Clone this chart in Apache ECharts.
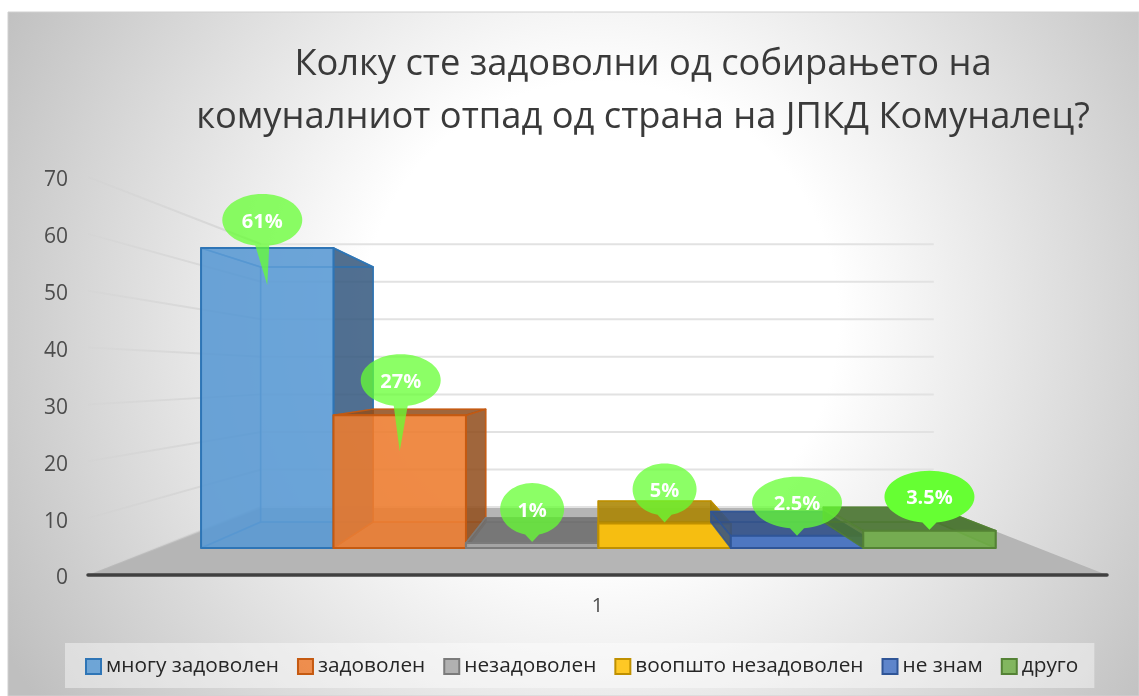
<!DOCTYPE html>
<html>
<head>
<meta charset="utf-8">
<style>
  html, body { margin: 0; padding: 0; background: #fff; }
  #chart { width: 1139px; height: 696px; }
</style>
</head>
<body>
<div id="chart"></div>
<script src="https://cdn.jsdelivr.net/npm/echarts@6/dist/echarts.min.js"></script>
<script>
const titleLines = ['Колку сте задоволни од собирањето на', 'комуналниот отпад од страна на ЈПКД Комуналец?']
const categories = ['1']
const seriesNames = ['многу задоволен', 'задоволен', 'незадоволен', 'воопшто незадоволен', 'не знам', 'друго']
const seriesValues = [61, 27, 1, 5, 2.5, 3.5]
const calloutLabels = ['61%', '27%', '1%', '5%', '2.5%', '3.5%']
const yTicks = [0, 10, 20, 30, 40, 50, 60, 70]

const fills = ['#5B9BD5', '#ED7D31', '#A5A5A5', '#FFC000', '#4472C4', '#70AD47']
const borders = ['#2E75B6', '#C55A11', '#7B7B7B', '#BF9000', '#2F5597', '#548235']
const darks = ['#37597f', '#8f4f20', '#6e6e6e', '#a88200', '#2f4f88', '#4a7530']

// callout look, one per bar: how far the tip sits below the bar top,
// how far the balloon sits above the tip, balloon half width, sideways shift
const tipDrops = [37, 36, -1, -1, 0, -1]
const tailLengths = [65, 71, 33, 33, 33, 33]
const calloutWidths = [40, 40, 32, 32, 45, 45]
const calloutShifts = [-5, 1, 0, 0, 0, 0]
const calloutOpacity = [0.75, 0.75, 0.75, 0.75, 0.75, 1]

// perspective depths, 1 = the plane of the axis
const eyeLevel = 35.2
const wallDepth = 0.66
const barFront = 0.865
const barBack = 0.735
const barsShare = 0.9015
const barsShift = 1

function projector(api) {
  const vx = api.coord([0, 0])[0]
  const vy = api.coord([0, eyeLevel])[1]
  return (x, y, s) => [vx + (x - vx) * s, vy + (y - vy) * s]
}

function hexAlpha(hex, a) {
  const n = parseInt(hex.slice(1), 16)
  return 'rgba(' + (n >> 16) + ',' + ((n >> 8) & 255) + ',' + (n & 255) + ',' + a + ')'
}

function barGeometry(i, value, api) {
  const p = projector(api)
  const band = api.size([1, 0])[0]
  const cx = api.coord([0, 0])[0]
  const w = band * barsShare / seriesValues.length
  const x0 = cx + barsShift - band * barsShare / 2 + i * w
  const y0 = api.coord([0, 0])[1]
  const y1 = api.coord([0, value])[1]
  return { p, x0, x1: x0 + w, y0, y1 }
}

function face(points, fill, stroke, lineWidth) {
  return {
    type: 'polygon',
    shape: { points },
    style: { fill, stroke, lineWidth, lineJoin: 'round' },
    silent: true,
  }
}

function renderBar(i) {
  return (params, api) => {
    const { p, x0, x1, y0, y1 } = barGeometry(i, api.value(1), api)
    const f = (x, y) => p(x, y, barFront)
    const b = (x, y) => p(x, y, barBack)
    const fill = fills[i]
    const dark = darks[i]
    const stroke = hexAlpha(borders[i], 0.9)
    const faint = hexAlpha(borders[i], 0.55)
    const topShown = b(x0, y1)[1] < f(x0, y1)[1]
    const rightShown = b(x1, y0)[0] > f(x1, y0)[0]
    const leftShown = b(x0, y0)[0] < f(x0, y0)[0]
    return {
      type: 'group',
      children: [
        face([b(x0, y0), b(x1, y0), b(x1, y1), b(x0, y1)], hexAlpha(fill, 0.18), faint, 1.5),
        face([f(x0, y0), f(x1, y0), b(x1, y0), b(x0, y0)], hexAlpha(dark, 0.22), faint, 1.5),
        face([f(x0, y0), b(x0, y0), b(x0, y1), f(x0, y1)], hexAlpha(dark, leftShown ? 0.8 : 0.15), faint, 1.5),
        face([f(x1, y0), b(x1, y0), b(x1, y1), f(x1, y1)], hexAlpha(dark, rightShown ? 0.85 : 0.6), stroke, 1.5),
        face([f(x0, y1), f(x1, y1), b(x1, y1), b(x0, y1)], hexAlpha(dark, topShown ? 0.85 : 0.12), stroke, 1.5),
        face([f(x0, y0), f(x1, y0), f(x1, y1), f(x0, y1)], hexAlpha(fill, 0.88), borders[i], 2),
      ],
    }
  }
}

// floor and the gridlines on the side and back walls
function renderWall(params, api) {
  const p = projector(api)
  const value = api.value(1)
  const band = api.size([1, 0])[0]
  const cx = api.coord([0, 0])[0]
  const xl = cx - band / 2
  const xr = cx + band / 2
  const y = api.coord([0, value])[1]
  const a = p(xl, y, 1)
  const c = p(xl, y, wallDepth)
  const d = p(xr, y, wallDepth)
  const children = [
    {
      type: 'line',
      shape: { x1: a[0], y1: a[1], x2: c[0], y2: c[1] },
      style: {
        lineWidth: 2,
        stroke: new echarts.graphic.LinearGradient(a[0], a[1], c[0], c[1], [
          { offset: 0, color: 'rgba(200,200,200,0.1)' },
          { offset: 1, color: 'rgba(205,205,205,0.75)' },
        ], true),
      },
    },
    {
      type: 'line',
      shape: { x1: c[0], y1: c[1], x2: d[0], y2: d[1] },
      style: { lineWidth: 2, stroke: '#e2e2e2' },
    },
  ]
  if (value === 0) {
    children.unshift({
      type: 'polygon',
      shape: { points: [a, p(xr, y, 1), d, c] },
      style: { fill: '#b5b5b5' },
    })
  }
  return { type: 'group', children }
}

function renderCallout(params, api) {
  const i = params.dataIndex
  const { p, x0, x1, y1 } = barGeometry(i, api.value(1), api)
  const top = p((x0 + x1) / 2, y1, barFront)
  const tip = [top[0], top[1] + tipDrops[i]]
  const cx = tip[0] + calloutShifts[i]
  const cy = tip[1] - tailLengths[i]
  const rx = calloutWidths[i]
  const ry = 26
  const halfBase = 7
  // ellipse and tail as one outline so the overlap does not darken
  const gap = Math.asin(halfBase / rx)
  const pts = []
  for (let k = 0; k <= 60; k++) {
    const th = Math.PI / 2 + gap + (2 * Math.PI - 2 * gap) * k / 60
    pts.push([cx + rx * Math.cos(th), cy + ry * Math.sin(th)])
  }
  pts.push(tip)
  return {
    type: 'group',
    children: [
      { type: 'polygon', shape: { points: pts }, style: { fill: hexAlpha('#66ff33', calloutOpacity[i]) } },
      {
        type: 'text',
        x: cx,
        y: cy + 2,
        style: {
          text: calloutLabels[i],
          fill: '#fff',
          font: 'bold 20px "Open Sans"',
          align: 'center',
          verticalAlign: 'middle',
        },
      },
    ],
  }
}

const chart = echarts.init(document.getElementById('chart'), null, { renderer: 'canvas' })

const barSeries = seriesNames.map((name, i) => ({
  name,
  type: 'custom',
  coordinateSystem: 'cartesian2d',
  data: [[0, seriesValues[i]]],
  encode: { x: 0, y: 1 },
  z: 3 + i,
  itemStyle: { color: hexAlpha(fills[i], 0.85), borderColor: borders[i], borderWidth: 2 },
  renderItem: renderBar(i),
  silent: true,
}))

chart.setOption({
  animation: false,
  backgroundColor: '#fff',
  textStyle: { fontFamily: '"Open Sans"' },
  graphic: {
    elements: [
      {
        type: 'rect',
        z: -10,
        shape: { x: 8, y: 12, width: 1131, height: 684 },
        style: {
          fill: new echarts.graphic.RadialGradient(600, 320, 680, [
            { offset: 0, color: '#ffffff' },
            { offset: 0.35, color: '#ffffff' },
            { offset: 1, color: '#bfbfbf' },
          ], true),
          stroke: '#d0d0d0',
          lineWidth: 1,
        },
      },
    ],
  },
  title: {
    text: titleLines.join('\n'),
    left: 638,
    top: 33,
    textAlign: 'center',
    textStyle: {
      fontFamily: '"Open Sans"',
      fontSize: 36.3,
      fontWeight: 'normal',
      color: '#3a3a3a',
      lineHeight: 53,
    },
  },
  legend: {
    data: seriesNames,
    left: 65,
    top: 643,
    padding: [13, 16, 11, 20],
    backgroundColor: 'rgba(255,255,255,0.42)',
    itemWidth: 15,
    itemHeight: 15,
    itemGap: 18,
    icon: 'rect',
    textStyle: { fontFamily: '"Open Sans"', fontSize: 20.8, color: '#262626' },
    selectedMode: false,
  },
  grid: { left: 88, right: 32, top: 177, height: 398 },
  xAxis: {
    type: 'category',
    data: categories,
    z: 10,
    axisTick: { show: false },
    axisLine: { lineStyle: { color: '#404040', width: 3.5, cap: 'round' } },
    axisLabel: { fontSize: 20, color: '#4d4d4d', margin: 21 },
  },
  yAxis: {
    type: 'value',
    min: yTicks[0],
    max: yTicks[yTicks.length - 1],
    interval: 10,
    axisLine: { show: false },
    axisTick: { show: false },
    splitLine: { show: false },
    axisLabel: {
      margin: 20,
      formatter: '{v|{value}}',
      rich: {
        v: { fontFamily: '"Open Sans"', fontSize: 21, color: '#4d4d4d', padding: [7, 0, 0, 0] },
      },
    },
  },
  series: [
    {
      name: 'walls',
      type: 'custom',
      data: yTicks.map((t) => [0, t]),
      encode: { x: 0, y: 1 },
      z: 1,
      renderItem: renderWall,
      silent: true,
    },
    ...barSeries,
    {
      name: 'callouts',
      type: 'custom',
      data: seriesValues.map((v) => [0, v]),
      encode: { x: 0, y: 1 },
      z: 20,
      renderItem: renderCallout,
      silent: true,
    },
  ],
})
</script>
</body>
</html>
